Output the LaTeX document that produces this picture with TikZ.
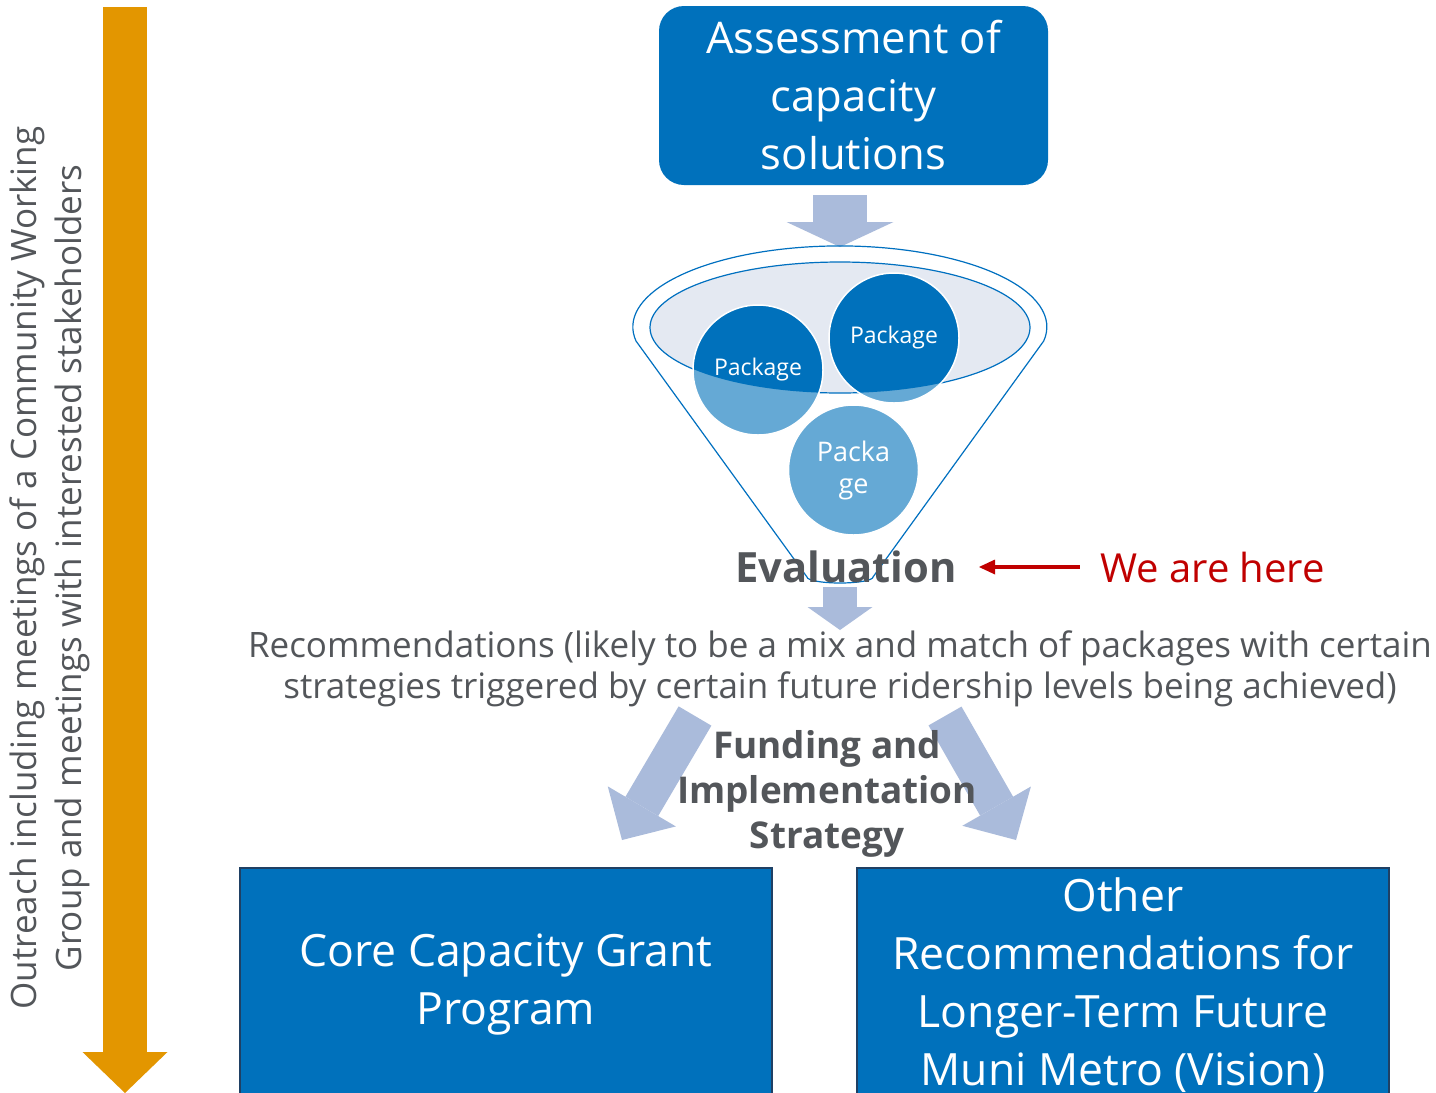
\documentclass[tikz,border=0pt]{standalone}
\usepackage{fontspec}
\setmainfont{Open Sans}
\usetikzlibrary{arrows.meta,positioning}
\definecolor{boxblue}{RGB}{0,113,188}
\definecolor{boxedge}{RGB}{31,64,100}
\definecolor{pkglight}{RGB}{101,169,213}
\definecolor{rimfill}{RGB}{228,233,242}
\definecolor{funnelline}{RGB}{0,112,192}
\definecolor{arrowgrey}{RGB}{170,187,219}
\definecolor{textgrey}{RGB}{83,86,90}
\definecolor{herered}{RGB}{192,0,0}
\definecolor{outreachorange}{RGB}{227,150,0}

\begin{document}
\begin{tikzpicture}[x=1pt,y=-1pt,every node/.style={align=center,inner sep=0pt},
  bluebox/.style={draw=boxedge,line width=2,fill=boxblue,text=white,minimum width=532,minimum height=234,font=\fontsize{44.5}{58}\selectfont},
  pkg/.style={circle,draw=white,line width=1.5,minimum size=130,text=white,font=\fontsize{23}{32}\selectfont},
  fatarrow/.style={draw=arrowgrey,line cap=butt}]
\fill[white] (0,0) rectangle (1436,1093);
\useasboundingbox (0,0) rectangle (1436,1093);
\clip (0,0) rectangle (1436,1093);
\coordinate (otop) at (125,7); \coordinate (obot) at (125,1093);
\draw[fatarrow,draw=outreachorange,line width=44,-{Triangle[width=85pt,length=41pt,line width=0pt]}] (otop)--(obot);
\node[rotate=90,text=textgrey,font=\fontsize{35}{45}\selectfont] (outreach) at (50,568) {Outreach including meetings of a Community Working\\Group and meetings with interested stakeholders};
\node[fill=boxblue,rounded corners=25,minimum width=389,minimum height=179,text=white,font=\fontsize{43.6}{58}\selectfont] (assess) at (853.5,95.5) {Assessment of\\capacity\\solutions};
\coordinate (a1s) at (840,195); \coordinate (a1e) at (840,247);
\draw[fatarrow,line width=54,-{Triangle[width=107pt,length=25pt,line width=0pt]}] (a1s)--(a1e);
\draw[funnelline,line width=1.2] (636,341) arc[start angle=170,end angle=370,x radius=207,y radius=81] -- (873,577) arc[start angle=0,end angle=180,x radius=33,y radius=6] -- cycle;
\draw[funnelline,line width=1.2,fill=rimfill] (840,327.5) ellipse[x radius=190,y radius=65.5];
\fill[pkglight] (758,370) circle[radius=65] (894,338) circle[radius=65] (853.5,470) circle[radius=65];
\begin{scope}
\clip (840,327.5) ellipse[x radius=190,y radius=65.5];
\fill[boxblue] (758,370) circle[radius=65] (894,338) circle[radius=65];
\end{scope}
\node[pkg] (p1) at (758,370) {Package};
\node[pkg] (p2) at (894,338) {Package};
\node[pkg,font=\fontsize{27}{32}\selectfont] (p3) at (853.5,470) {Packa\\ge};
\node[text=textgrey,font=\bfseries\fontsize{41.7}{48}\selectfont] (eval) at (846,567) {Evaluation};
\node[text=herered,font=\fontsize{40}{48}\selectfont] (here) at (1212.5,567) {We are here};
\draw[herered,line width=3.3,-{Triangle[width=15pt,length=16pt,line width=0pt]}] ([xshift=-20]here.west)--([xshift=22]eval.east);
\coordinate (a2s) at (840,587); \coordinate (a2e) at (840,630);
\draw[fatarrow,line width=34,-{Triangle[width=65pt,length=23pt,line width=0pt]}] (a2s)--(a2e);
\node[text=textgrey,font=\fontsize{35}{41}\selectfont] (rec) at (840,669) {Recommendations (likely to be a mix and match of packages with certain\\strategies triggered by certain future ridership levels being achieved)};
\coordinate (l1) at (695,716); \coordinate (l2) at (622,840);
\coordinate (r1) at (945,716); \coordinate (r2) at (1016,840);
\draw[fatarrow,line width=38,-{Triangle[width=79pt,length=39pt,line width=0pt]}] (l1)--(l2);
\draw[fatarrow,line width=38,-{Triangle[width=79pt,length=39pt,line width=0pt]}] (r1)--(r2);
\node[text=textgrey,font=\bfseries\fontsize{36.9}{45}\selectfont] (fund) at (827,794) {Funding and\\Implementation\\Strategy};
\node[bluebox] (core) at (506,985) {Core Capacity Grant\\Program};
\node[bluebox] (other) at (1123,985) {Other\\Recommendations for\\Longer-Term Future\\Muni Metro (Vision)};
\end{tikzpicture}
\end{document}
